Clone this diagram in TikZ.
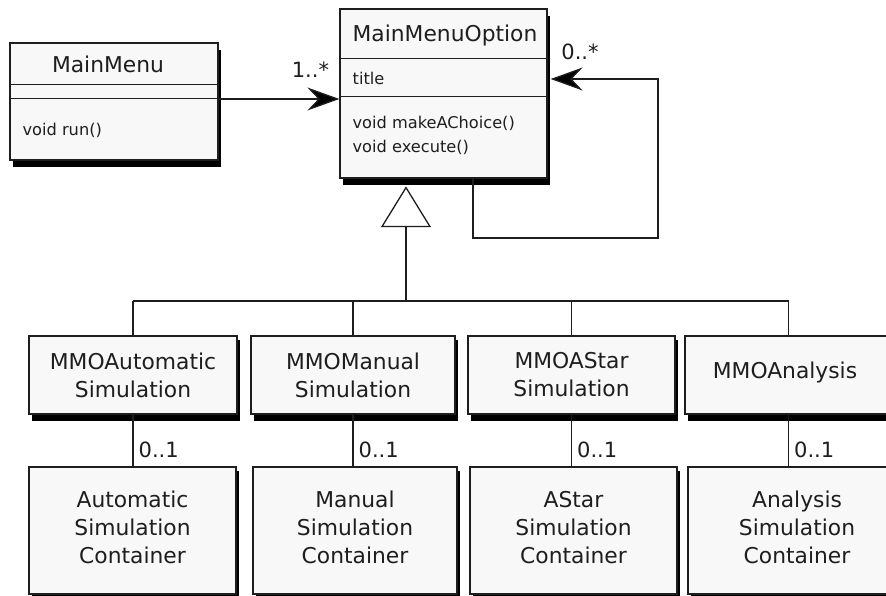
\documentclass[tikz,border=0pt]{standalone}
\usepackage{fontspec}
\setmainfont{DejaVu Sans}
\usetikzlibrary{arrows.meta,shadows}
\definecolor{boxfill}{HTML}{F8F8F8}
\definecolor{ink}{HTML}{1E1E1E}
\begin{document}
\begin{tikzpicture}[x=1pt,y=-1pt,
  line width=1.3pt, draw=ink,
  classbox/.style={draw=ink, line width=1.2pt, fill=boxfill, inner sep=0pt,
    align=center, text=ink, font=\fontsize{21.8}{28}\selectfont,
    drop shadow={shadow xshift=3pt, shadow yshift=-7pt, opacity=1, fill=black}},
  smallbox/.style={classbox,
    drop shadow={shadow xshift=3pt, shadow yshift=-4pt, opacity=1, fill=black}},
  bigtext/.style={text=ink, inner sep=0pt, font=\fontsize{21.8}{28}\selectfont},
  smalltext/.style={text=ink, inner sep=0pt, anchor=west, font=\fontsize{16.2}{20}\selectfont},
  mult/.style={text=ink, inner sep=0pt, font=\fontsize{21}{24}\selectfont},
  assoc/.style={draw=ink, line width=1.3pt, -{Stealth[length=32pt, width=23pt, inset=11pt, fill=black]}},
  link/.style={draw=ink, line width=1.3pt}]

\useasboundingbox (0,0) rectangle (886,596);
\fill[white] (0,0) rectangle (886,596);
\clip (0,0) rectangle (886,596);

% --- MainMenu class ---
\node[classbox, minimum width=208pt, minimum height=117pt] (mm) at (114,101.5) {};
\draw[link, line width=1.2pt] ([yshift=-42pt]mm.north west) -- ([yshift=-42pt]mm.north east);
\draw[link, line width=1.2pt] ([yshift=-56pt]mm.north west) -- ([yshift=-56pt]mm.north east);
\node[bigtext] (mmname) at (108,64) {MainMenu};
\node[smalltext] (mmrun) at (22,130) {void run()};

% --- MainMenuOption class ---
\node[classbox, minimum width=207pt, minimum height=169pt] (mmo) at (443.5,93.5) {};
\draw[link, line width=1.2pt] ([yshift=-50pt]mmo.north west) -- ([yshift=-50pt]mmo.north east);
\draw[link, line width=1.2pt] ([yshift=-88pt]mmo.north west) -- ([yshift=-88pt]mmo.north east);
\node[bigtext] (mmoname) at (445,35) {MainMenuOption};
\node[smalltext] (mmotitle) at (352,78) {title};
\node[smalltext] (mmochoice) at (352,123) {void makeAChoice()};
\node[smalltext] (mmoexec) at (352,147) {void execute()};

% --- association MainMenu -> MainMenuOption ---
\draw[assoc] ([yshift=2.5pt]mm.east) -- ([yshift=2.5pt]mm.east -| mmo.west)
  node[mult, pos=0.76, anchor=base, yshift=21pt] (m1) {1..*};

% --- self association on MainMenuOption ---
\coordinate (loopcorner) at (658,238);
\draw[assoc] ([xshift=29.5pt]mmo.south) |- (loopcorner) |- ([xshift=3pt, yshift=14.5pt]mmo.east);
\node[mult, anchor=base] (m2) at (580,60) {0..*};

% --- subclasses ---
\node[smallbox, minimum width=208pt, minimum height=78pt] (a1) at (133,375) {MMOAutomatic\\Simulation};
\node[smallbox, minimum width=204pt, minimum height=78pt] (a2) at (353,375) {MMOManual\\Simulation};
\node[smallbox, minimum width=207pt, minimum height=78pt] (a3) at (571.5,375) {MMOAStar\\Simulation};
\node[smallbox, minimum width=207pt, minimum height=78pt] (a4) at (788.5,375) {};
\node[bigtext] (a4name) at (785,372) {MMOAnalysis};

% --- generalization ---
\coordinate (genapex) at ([xshift=-37.5pt, yshift=-9pt]mmo.south);
\coordinate (genbase) at ([yshift=-39pt]genapex);
\coordinate (bus) at (0,301);
\draw[link, fill=white] (genapex) -- ([xshift=-24pt]genbase) -- ([xshift=24pt]genbase) -- cycle;
\draw[link] (genbase) -- (genbase |- bus);
\draw[link] (a1.north |- bus) -- (a4.north |- bus);
\foreach \n in {a1,a2,a3,a4} \draw[link] (\n.north) -- (\n.north |- bus);

% --- containers ---
\node[smallbox, minimum width=207pt, minimum height=127pt, text depth=6pt] (b1) at (132.5,530.5) {Automatic\\Simulation\\Container};
\node[smallbox, minimum width=204pt, minimum height=127pt, text depth=6pt] (b2) at (355,530.5) {Manual\\Simulation\\Container};
\node[smallbox, minimum width=207pt, minimum height=127pt, text depth=6pt] (b3) at (573.5,530.5) {AStar\\Simulation\\Container};
\node[smallbox, minimum width=218pt, minimum height=127pt] (b4) at (797,530.5) {};
\node[bigtext, align=center] (b4name) at (797,527) {Analysis\\Simulation\\Container};

% --- 0..1 links ---
\foreach \u/\l in {a1/b1,a2/b2,a3/b3,a4/b4}
  \draw[link] (\u.south) -- (\u.south |- \l.north)
    node[mult, pos=0.68, anchor=west, xshift=5pt] {0..1};

\end{tikzpicture}
\end{document}
